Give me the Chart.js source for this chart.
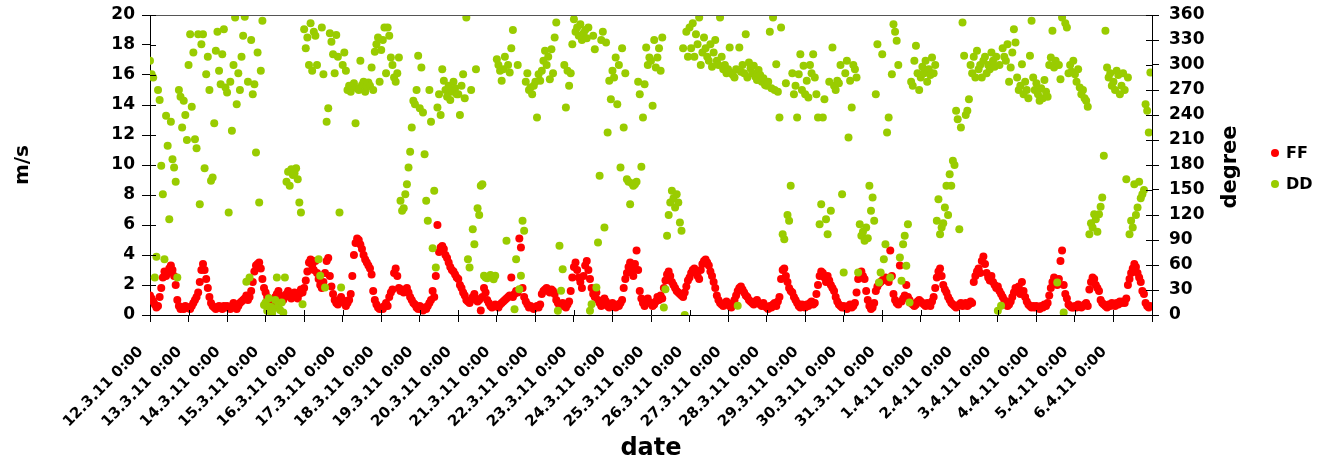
<!DOCTYPE html>
<html>
<head>
<meta charset="utf-8">
<script src="https://cdn.jsdelivr.net/npm/chart.js@4.4.1/dist/chart.umd.min.js"></script>
<style>
  html, body { margin: 0; padding: 0; background: #fff; }
  #wrap { width: 1320px; height: 462px; }
</style>
</head>
<body>
<div id="wrap"><canvas id="windChart" width="1320" height="462"></canvas></div>
<script>
// one label per day, the axis runs hourly from 12.3.11 0:00 to 7.4.11 0:00
const dayLabels = [
    "12.3.11 0:00", "13.3.11 0:00", "14.3.11 0:00", "15.3.11 0:00", "16.3.11 0:00",
    "17.3.11 0:00", "18.3.11 0:00", "19.3.11 0:00", "20.3.11 0:00", "21.3.11 0:00",
    "22.3.11 0:00", "23.3.11 0:00", "24.3.11 0:00", "25.3.11 0:00", "26.3.11 0:00",
    "27.3.11 0:00", "28.3.11 0:00", "29.3.11 0:00", "30.3.11 0:00", "31.3.11 0:00",
    "1.4.11 0:00", "2.4.11 0:00", "3.4.11 0:00", "4.4.11 0:00", "5.4.11 0:00",
    "6.4.11 0:00",
];

const ffTicks = [0, 2, 4, 6, 8, 10, 12, 14, 16, 18, 20];
const ddTicks = [0, 30, 60, 90, 120, 150, 180, 210, 240, 270, 300, 330, 360];

// FF wind speed (m/s), hourly, one row per day
const ffValues = [
    1.3,1.1,0.9,0.7,0.5,0.6,1.2,1.8,2.5,2.9,2.6,2.8,3.1,3.3,3.0,2.6,2.0,1.0,0.6,0.4,0.5,0.4,0.6,0.5,
    0.5,0.4,0.6,0.8,1.0,1.2,1.5,2.2,3.0,3.4,3.0,2.4,1.8,1.2,0.8,0.6,0.5,0.4,0.5,0.6,0.5,0.4,0.6,0.5,
    0.6,0.5,0.4,0.6,0.8,0.5,0.4,0.6,0.8,0.9,1.0,1.1,1.3,1.0,1.2,1.6,2.2,2.9,3.3,3.4,3.5,3.1,2.4,1.8,
    1.5,1.2,1.0,0.9,0.8,1.0,1.2,1.4,1.6,1.3,1.1,1.0,1.2,1.4,1.6,1.3,1.1,1.2,1.5,1.3,1.1,1.4,1.7,1.5,
    1.8,2.3,2.9,3.5,3.7,3.3,3.0,3.6,2.8,2.4,2.0,1.8,2.2,2.8,3.6,3.8,2.6,1.9,1.4,1.0,0.8,0.7,1.0,1.2,
    1.0,0.8,0.6,0.8,1.0,1.4,2.6,4.0,4.8,5.1,5.0,4.7,4.4,4.0,3.7,3.5,3.3,3.1,2.7,1.6,1.0,0.7,0.5,0.4,
    0.5,0.4,0.6,0.8,0.6,1.2,1.5,1.7,2.8,3.1,2.6,1.8,1.6,1.7,1.5,1.6,1.8,1.5,1.2,1.0,0.8,0.7,0.5,0.4,
    0.6,0.4,0.3,0.5,0.4,0.6,0.8,1.0,1.6,1.2,2.6,6.0,4.2,4.5,4.6,4.4,4.0,3.8,3.5,3.2,3.0,2.9,2.7,2.5,
    2.4,2.0,1.8,1.5,1.3,1.0,0.9,0.8,1.0,1.2,1.4,1.1,0.9,1.0,0.3,1.2,1.8,1.5,1.0,0.8,0.6,0.5,0.6,0.7,
    0.6,0.5,0.7,0.8,0.9,1.0,1.1,1.2,1.3,2.5,1.2,1.4,1.6,1.5,5.1,4.5,1.8,1.2,0.9,0.7,0.5,0.6,0.5,0.4,
    0.5,0.6,0.5,0.7,1.4,1.6,1.7,1.8,1.6,1.5,1.7,1.6,1.4,1.0,0.8,0.6,0.7,0.8,0.6,0.5,0.7,0.9,1.6,2.5,
    3.2,3.5,3.0,2.5,2.2,1.8,2.6,3.3,3.6,3.0,2.4,1.8,1.4,1.2,1.5,1.0,0.8,0.6,0.7,1.1,0.9,0.6,0.5,0.7,
    0.8,0.6,0.5,0.7,0.6,0.8,1.0,1.8,2.4,2.8,3.2,3.5,3.0,2.6,3.4,4.3,3.0,1.6,1.1,0.8,0.6,0.9,1.1,0.8,
    0.8,0.6,0.7,0.9,1.2,1.0,1.3,1.1,1.8,2.3,2.7,2.9,2.6,2.2,2.0,1.8,1.6,1.5,1.4,1.3,1.2,1.5,1.9,2.3,
    2.5,2.8,3.0,3.1,2.8,2.6,2.4,3.0,3.4,3.6,3.7,3.5,3.3,2.9,2.6,2.2,1.8,1.3,1.0,0.8,0.7,0.6,0.8,0.9,
    0.7,0.6,0.5,0.8,1.0,1.3,1.6,1.8,1.9,1.7,1.5,1.3,1.2,1.0,0.9,0.8,0.7,0.9,1.0,0.8,0.7,0.6,0.8,0.6,
    0.5,0.4,0.6,0.5,0.7,0.8,0.6,0.9,1.2,2.4,3.0,3.1,2.6,2.2,1.8,1.6,1.5,1.2,1.0,0.8,0.6,0.5,0.7,0.6,
    0.5,0.7,0.6,0.8,0.9,0.7,0.8,1.4,2.0,2.6,2.9,2.8,2.5,2.2,2.6,2.3,2.0,1.8,1.6,1.2,0.9,0.7,0.6,0.5,
    0.6,0.5,0.4,0.6,0.7,0.5,0.6,0.8,1.5,2.4,2.8,2.9,2.6,2.4,1.6,1.0,0.6,0.4,0.5,0.8,1.6,1.9,2.1,2.2,
    2.3,2.4,2.5,2.4,2.2,4.3,2.6,1.4,1.0,0.8,0.7,3.3,0.9,1.1,1.3,2.0,1.2,1.0,0.8,0.7,0.6,0.7,0.9,1.0,
    0.9,0.8,0.7,0.6,0.8,0.7,0.6,0.9,1.2,1.8,2.5,2.9,3.1,2.6,2.0,1.7,1.5,1.2,1.0,0.8,0.7,0.6,0.5,0.6,
    0.7,0.8,0.6,0.7,0.8,0.6,0.7,0.9,0.8,2.2,2.6,2.9,3.1,2.8,3.6,3.9,3.4,2.8,2.5,2.3,2.6,2.2,2.0,1.8,
    1.9,1.6,1.4,1.2,1.0,0.8,0.6,0.7,0.9,1.2,1.5,1.8,1.6,1.9,1.4,2.2,1.6,1.2,0.9,0.7,0.6,0.5,0.6,0.5,
    0.6,0.5,0.4,0.6,0.5,0.7,0.6,0.8,1.3,1.8,2.2,2.5,2.3,2.0,2.4,3.6,4.3,2.0,1.4,1.1,0.7,0.6,0.5,0.5,
    0.6,0.5,0.7,0.6,0.5,0.6,0.7,0.8,0.6,1.7,2.2,2.5,2.4,2.0,1.8,1.6,1.0,0.8,0.7,0.6,0.5,0.7,0.6,0.8,
    0.7,0.6,0.8,0.7,0.9,0.8,0.9,0.8,1.1,2.0,2.4,2.8,3.1,3.4,3.2,2.8,2.5,2.2,1.6,1.4,0.8,0.6,0.5,0.6,
];

// DD wind direction (degree), hourly, one row per day
const ddValues = [
    305,289,285,45,70,270,258,179,145,67,239,203,115,232,187,177,160,45,270,262,225,257,240,210,
    300,337,250,315,211,200,337,133,325,337,176,289,310,270,161,165,230,317,340,293,277,313,343,273,
    267,123,280,221,300,357,253,290,270,310,335,358,40,280,45,330,265,277,195,315,135,293,353,12,
    15,5,20,10,2,8,18,45,12,6,15,3,45,160,172,155,175,168,170,176,163,135,123,13,
    343,320,333,300,350,293,340,335,300,67,47,345,289,33,232,248,338,328,313,290,336,310,123,33,
    300,315,293,270,275,268,273,278,230,272,270,305,276,280,268,274,279,275,297,270,316,325,333,280,
    318,330,345,290,345,335,309,300,285,280,290,309,137,125,128,145,157,177,196,225,257,253,270,311,
    248,297,243,193,137,113,270,232,80,149,57,249,265,240,295,281,270,262,275,258,268,280,272,265,
    265,240,275,289,260,357,67,57,270,103,85,295,128,120,155,157,47,45,44,46,48,45,43,47,
    307,300,293,281,295,310,89,300,291,320,342,7,67,300,31,47,113,101,280,290,270,273,265,275,
    280,237,289,281,293,305,317,300,310,283,319,290,333,351,5,83,29,55,300,249,293,275,290,325,
    355,340,345,335,349,330,338,342,332,345,5,13,335,319,33,87,167,330,340,105,327,219,281,259,
    293,285,309,253,300,177,320,225,290,163,160,133,158,155,157,160,280,265,178,237,277,321,300,309,
    305,251,330,297,309,320,293,333,9,31,95,120,135,149,140,129,145,135,111,101,320,0,340,310,
    345,320,350,310,337,325,357,300,315,333,320,310,305,325,298,315,330,305,300,357,310,295,300,290,
    295,321,290,288,285,295,11,321,292,300,290,337,285,303,296,290,299,286,282,294,288,280,284,276,
    275,280,340,272,357,270,301,268,237,345,97,91,278,120,113,155,290,265,275,237,289,313,270,299,
    265,281,261,300,290,313,285,265,237,109,133,237,259,115,97,280,125,321,275,270,281,278,300,145,
    51,290,305,213,281,249,300,295,285,51,109,95,100,89,105,92,155,125,141,113,265,325,39,51,
    313,67,85,219,237,45,289,349,340,329,300,69,41,85,95,59,109,15,280,275,305,323,290,270,
    285,298,290,305,280,295,288,309,290,300,113,139,97,105,110,129,155,120,169,155,185,180,245,235,
    103,225,351,311,240,245,259,300,290,310,285,317,295,300,285,305,310,290,300,295,315,305,298,310,
    5,300,11,320,310,305,325,280,297,315,343,327,285,270,275,301,265,280,270,260,311,353,285,270,
    278,265,257,272,260,282,268,262,300,309,341,297,305,39,300,283,357,3,350,345,290,300,292,305,
    289,280,295,273,265,270,260,257,250,97,110,105,121,115,100,121,130,141,191,341,297,285,290,275,
    280,270,293,288,265,275,290,270,163,285,97,113,105,157,120,129,160,140,145,150,253,245,219,291,
];

const HOURS_PER_DAY = 24;
const FONT = "'DejaVu Sans', Verdana, sans-serif";

// tick marks that also reach into the plot, the top frame line,
// the right axis title (reads bottom to top) and the legend
const chartDecorations = {
    id: "chartDecorations",
    afterDraw(chart) {
        const { ctx, chartArea: area } = chart;
        ctx.save();

        ctx.strokeStyle = "#555";
        ctx.lineWidth = 1;
        ctx.beginPath();
        ctx.moveTo(area.left, Math.round(area.top) + 0.5);
        ctx.lineTo(area.right, Math.round(area.top) + 0.5);
        ctx.stroke();

        ctx.strokeStyle = "#000";
        ["x", "y", "y1"].forEach((id) => {
            const scale = chart.scales[id];
            scale.ticks.forEach((t, i) => {
                const p = Math.round(scale.getPixelForTick(i)) + 0.5;
                ctx.beginPath();
                if (id === "x") {
                    ctx.moveTo(p, area.bottom);
                    ctx.lineTo(p, area.bottom - 5);
                } else if (id === "y") {
                    ctx.moveTo(area.left, p);
                    ctx.lineTo(area.left + 6, p);
                } else {
                    ctx.moveTo(area.right, p);
                    ctx.lineTo(area.right - 6, p);
                }
                ctx.stroke();
            });
        });

        ctx.fillStyle = "#000";
        ctx.font = "bold 21px " + FONT;
        ctx.textAlign = "center";
        ctx.textBaseline = "middle";
        ctx.translate(area.right + 79, (area.top + area.bottom) / 2 + 2);
        ctx.rotate(-Math.PI / 2);
        ctx.fillText("degree", 0, 0);
        ctx.setTransform(1, 0, 0, 1, 0, 0);

        const legendY = [area.top + 138, area.top + 169];
        chart.data.datasets.forEach((ds, i) => {
            ctx.fillStyle = ds.backgroundColor;
            ctx.beginPath();
            ctx.arc(area.right + 123, legendY[i], 4, 0, Math.PI * 2);
            ctx.fill();
            ctx.fillStyle = "#000";
            ctx.font = "bold 16px " + FONT;
            ctx.textAlign = "left";
            ctx.textBaseline = "middle";
            ctx.fillText(ds.label, area.right + 134, legendY[i] + 1);
        });
        ctx.restore();
    },
};

function toPoints(values) {
    return values.map((v, i) => ({ x: i, y: v }));
}

// keep the plot box fixed: no extra room for half tick labels at top/bottom
function fixVertical(width) {
    return (scale) => {
        scale.width = width;
        scale.paddingTop = 0;
        scale.paddingBottom = 0;
    };
}

const ctx = document.getElementById("windChart");

new Chart(ctx, {
    type: "scatter",
    data: {
        datasets: [
            {
                label: "FF",
                data: toPoints(ffValues),
                yAxisID: "y",
                backgroundColor: "#ff0000",
                borderColor: "#ff0000",
                pointRadius: 4,
                borderWidth: 0,
                order: 1,
            },
            {
                label: "DD",
                data: toPoints(ddValues),
                yAxisID: "y1",
                backgroundColor: "#99cc00",
                borderColor: "#99cc00",
                pointRadius: 4,
                borderWidth: 0,
                order: 0,
            },
        ],
    },
    options: {
        responsive: false,
        animation: false,
        events: [],
        layout: { padding: { top: 15, right: 108, left: 0, bottom: 0 } },
        plugins: {
            legend: { display: false },
            tooltip: { enabled: false },
        },
        scales: {
            x: {
                type: "linear",
                min: 0,
                max: dayLabels.length * HOURS_PER_DAY,
                afterBuildTicks: (scale) => {
                    scale.ticks = dayLabels
                        .concat([""])
                        .map((l, i) => ({ value: i * HOURS_PER_DAY }));
                },
                afterFit: (scale) => { scale.height = 147; },
                ticks: {
                    autoSkip: false,
                    minRotation: 45,
                    maxRotation: 45,
                    padding: 21,
                    labelOffset: -9,
                    color: "#000",
                    font: { family: FONT, size: 15, weight: "bold" },
                    callback: (value, index) => dayLabels[index] || "",
                },
                grid: { drawOnChartArea: false, drawTicks: true, tickLength: 7, color: "#000" },
                border: { display: true, color: "#000", width: 1 },
                title: {
                    display: true,
                    text: "date",
                    color: "#000",
                    font: { family: FONT, size: 24, weight: "bold", lineHeight: 1.1 },
                    padding: { top: 0, bottom: 0 },
                },
            },
            y: {
                position: "left",
                min: 0,
                max: 20,
                afterBuildTicks: (scale) => {
                    scale.ticks = ffTicks.map((v) => ({ value: v }));
                },
                afterFit: fixVertical(150),
                ticks: {
                    padding: 7,
                    color: "#000",
                    font: { family: FONT, size: 17, weight: "bold" },
                },
                grid: { drawOnChartArea: false, drawTicks: true, tickLength: 8, color: "#000" },
                border: { display: true, color: "#000", width: 1 },
                title: {
                    display: true,
                    text: "m/s",
                    color: "#000",
                    font: { family: FONT, size: 20, weight: "bold", lineHeight: 1.2 },
                    padding: { top: 11, bottom: 0 },
                },
            },
            y1: {
                position: "right",
                min: 0,
                max: 360,
                afterBuildTicks: (scale) => {
                    scale.ticks = ddTicks.map((v) => ({ value: v }));
                },
                afterFit: fixVertical(60),
                ticks: {
                    padding: 10,
                    color: "#000",
                    font: { family: FONT, size: 17, weight: "bold" },
                },
                grid: { drawOnChartArea: false, drawTicks: true, tickLength: 7, color: "#000" },
                border: { display: true, color: "#000", width: 1 },
            },
        },
    },
    plugins: [chartDecorations],
});
</script>
</body>
</html>
